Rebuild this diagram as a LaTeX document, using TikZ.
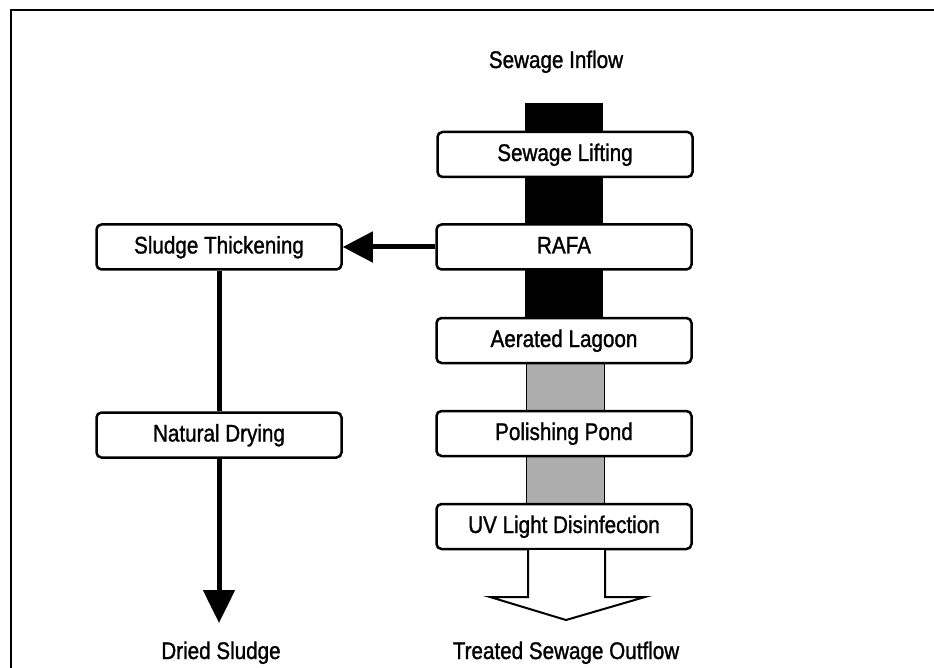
\documentclass[tikz,border=0pt]{standalone}
\usepackage{fontspec}
\setmainfont{Liberation Sans}[FakeStretch=0.86,FakeBold=1.2]
\usetikzlibrary{arrows.meta,backgrounds,calc}
\begin{document}
\begin{tikzpicture}[x=1pt,y=-1pt,
  font=\fontsize{24pt}{28pt}\selectfont,
  procbox/.style={draw,line width=2.5pt,rounded corners=5pt,fill=white,
    minimum height=45pt,inner sep=0pt,text height=17pt,text depth=4pt},
  rbox/.style={procbox,minimum width=255pt},
  lbox/.style={procbox,minimum width=245pt},
  lbl/.style={inner sep=0pt,anchor=base},
  flowline/.style={line width=5pt}]
\useasboundingbox (0,0) rectangle (934,668);
\draw[line width=2pt] (11,668) -- (11,10) -- (934,10);

\node[lbl] (inflow) at (556,68) {Sewage Inflow};
\node[rbox] (lift) at (565,154.5) {Sewage Lifting};
\node[rbox] (rafa) at (564,247) {RAFA};
\node[rbox] (al) at (564,340.5) {Aerated Lagoon};
\node[rbox] (pp) at (564,433.5) {Polishing Pond};
\node[rbox] (uv) at (564,526.5) {UV Light Disinfection};
\node[lbox] (st) at (219,247) {Sludge Thickening};
\node[lbox] (nd) at (219,435) {Natural Drying};
\node[lbl] (dried) at (221,659) {Dried Sludge};
\node[lbl] (treated) at (566,659) {Treated Sewage Outflow};

\coordinate (bartop) at (525,103);
\coordinate (outtip) at (566,620);
\coordinate (drytip) at (219,623);

\begin{scope}[on background layer]
  \fill[black] (bartop) rectangle (603,330);
  \filldraw[fill=black!32,draw=black,line width=0.8pt] (526,350) rectangle (604,515);
\end{scope}

% hollow outflow arrow
\draw[line width=2pt,fill=white,line join=miter]
  ($(outtip)+(-38,-70)$) -- ($(outtip)+(-38,-23)$) -- ($(outtip)+(-76,-23)$)
  -- (outtip) -- ($(outtip)+(79,-23)$) -- ($(outtip)+(39,-23)$) -- ($(outtip)+(39,-70)$);

\draw[flowline,-{Triangle[length=30pt,width=30pt]}] (rafa.west) -- (st.east);
\draw[flowline] (st.south) -- (nd.north);
\draw[flowline,-{Triangle[length=33pt,width=31pt]}] (nd.south) -- (drytip);
\end{tikzpicture}
\end{document}
